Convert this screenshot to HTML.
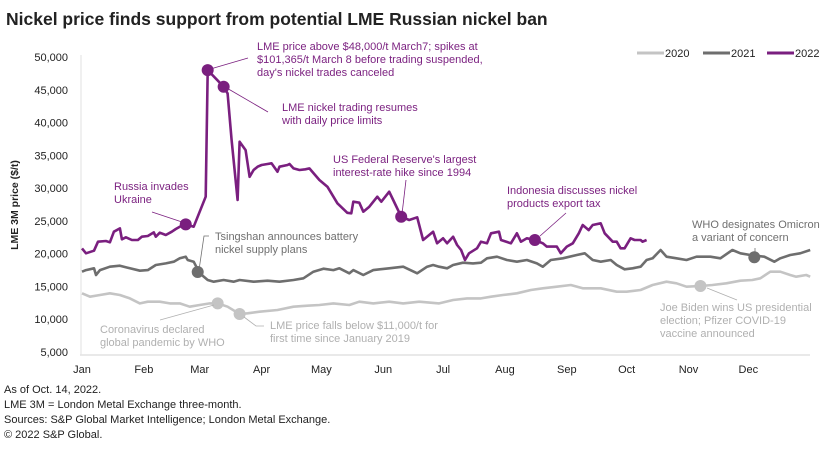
<!DOCTYPE html>
<html><head><meta charset="utf-8"><style>
body{margin:0;background:#fff;width:840px;height:448px;overflow:hidden;font-family:"Liberation Sans",sans-serif}
svg text{font-family:"Liberation Sans",sans-serif}
</style></head><body>
<svg id="chart" width="840" height="448" xmlns="http://www.w3.org/2000/svg">
<text x="6" y="25" font-size="17.5" font-weight="bold" fill="#222">Nickel price finds support from potential LME Russian nickel ban</text>
<g id="yaxis"></g>
<g id="xaxis"></g>
<text transform="translate(18,205) rotate(-90)" text-anchor="middle" font-size="10.5" font-weight="bold" fill="#222">LME 3M price ($/t)</text>
<g id="series"></g>
<g id="annotations" font-size="11">
<line x1="207" y1="70" x2="248" y2="58" stroke="#7a1f7f" stroke-width="0.8"/>
<text x="257" y="50" fill="#7a1f7f">LME price above $48,000/t March7; spikes at</text>
<text x="257" y="63" fill="#7a1f7f">$101,365/t March 8 before trading suspended,</text>
<text x="257" y="76" fill="#7a1f7f">day's nickel trades canceled</text>
<line x1="225" y1="87" x2="268" y2="112" stroke="#7a1f7f" stroke-width="0.8"/>
<text x="282" y="111" fill="#7a1f7f">LME nickel trading resumes</text>
<text x="282" y="124" fill="#7a1f7f">with daily price limits</text>
<text x="333" y="163" fill="#7a1f7f">US Federal Reserve's largest</text>
<text x="333" y="176" fill="#7a1f7f">interest-rate hike since 1994</text>
<line x1="406" y1="180" x2="402" y2="214" stroke="#7a1f7f" stroke-width="0.8"/>
<text x="114" y="190" fill="#7a1f7f">Russia invades</text>
<text x="114" y="203" fill="#7a1f7f">Ukraine</text>
<line x1="152" y1="212" x2="182" y2="222" stroke="#7a1f7f" stroke-width="0.8"/>
<text x="507" y="194" fill="#7a1f7f">Indonesia discusses nickel</text>
<text x="507" y="207" fill="#7a1f7f">products export tax</text>
<line x1="566" y1="213" x2="540" y2="236" stroke="#7a1f7f" stroke-width="0.8"/>
<text x="215" y="240" fill="#707070">Tsingshan announces battery</text>
<text x="215" y="253" fill="#707070">nickel supply plans</text>
<path d="M209 236 L204 236 L199 270" fill="none" stroke="#707070" stroke-width="0.8"/>
<text x="692" y="228" fill="#707070">WHO designates Omicron</text>
<text x="692" y="241" fill="#707070">a variant of concern</text>
<line x1="755" y1="248" x2="755" y2="254" stroke="#707070" stroke-width="0.8"/>
<text x="100" y="333" fill="#b0b0b0">Coronavirus declared</text>
<text x="100" y="346" fill="#b0b0b0">global pandemic by WHO</text>
<line x1="160" y1="320" x2="214" y2="305" stroke="#b0b0b0" stroke-width="0.8"/>
<text x="270" y="329" fill="#b0b0b0">LME price falls below $11,000/t for</text>
<text x="270" y="342" fill="#b0b0b0">first time since January 2019</text>
<path d="M244 317 L256 326 L264 326" fill="none" stroke="#b0b0b0" stroke-width="0.8"/>
<text x="660" y="311" fill="#b0b0b0">Joe Biden wins US presidential</text>
<text x="660" y="324" fill="#b0b0b0">election; Pfizer COVID-19</text>
<text x="660" y="337" fill="#b0b0b0">vaccine announced</text>
<line x1="707" y1="288" x2="737" y2="300" stroke="#b0b0b0" stroke-width="0.8"/>
</g>
<g font-size="11" fill="#222">
<g><line x1="637" y1="53" x2="664" y2="53" stroke="#c4c4c4" stroke-width="3"/><text x="665" y="57">2020</text></g>
<g><line x1="703" y1="53" x2="730" y2="53" stroke="#6e6e6e" stroke-width="3"/><text x="731" y="57">2021</text></g>
<g><line x1="767" y1="53" x2="794" y2="53" stroke="#7a1f7f" stroke-width="3"/><text x="795" y="57">2022</text></g>
</g>
<g font-size="11" fill="#222">
<text x="4" y="393">As of Oct. 14, 2022.</text>
<text x="4" y="408">LME 3M = London Metal Exchange three-month.</text>
<text x="4" y="423">Sources: S&amp;P Global Market Intelligence; London Metal Exchange.</text>
<text x="4" y="438">© 2022 S&amp;P Global.</text>
</g>
</svg>
<script>
const yTicks=[5000,10000,15000,20000,25000,30000,35000,40000,45000,50000];
const yTickLabels=["5,000","10,000","15,000","20,000","25,000","30,000","35,000","40,000","45,000","50,000"];
const months=["Jan","Feb","Mar","Apr","May","Jun","Jul","Aug","Sep","Oct","Nov","Dec"];
const monthStartDays=[0,31,59,90,120,151,181,212,243,273,304,334];
const days2022=[0,2,6,8,12,14,16,19,20,22,25,28,30,33,36,37,39,42,45,47,49,52,56,62,63,71,73,75,78,79,82,84,86,88,90,93,95,98,99,103,104,106,109,112,114,119,123,128,133,135,136,139,141,144,148,150,154,156,160,164,168,171,176,178,181,183,186,188,190,192,194,198,200,203,205,209,210,215,218,220,223,227,231,233,238,240,243,246,249,251,254,256,260,262,266,268,270,272,275,277,280,281,283];
const values2022=[20800,20050,20450,21820,21930,21730,23350,23860,22190,22490,22080,22080,22580,22690,23250,22580,23190,22840,23350,23760,24110,24470,24110,28690,48000,45460,44450,37330,28180,37070,35800,31730,32760,33260,33520,33670,33780,32500,33260,33520,33670,33010,32760,32860,33010,31230,30210,27680,26240,26150,27920,27770,26400,27160,28690,27920,29450,28180,25630,25130,25540,22080,23350,21580,22340,21580,22580,21320,20560,19030,20050,20810,21820,21580,23100,23350,22080,21580,23100,21820,22340,22080,21580,21070,21070,20050,21070,21580,23100,24370,23600,24370,24630,23100,21820,21820,20810,20810,22340,22080,22080,21820,22080];
const days2021=[0,2,6,7,9,14,19,24,29,33,37,42,46,49,52,53,56,59,63,66,71,76,79,86,93,99,106,111,116,121,126,129,134,136,141,146,154,161,168,173,176,179,183,186,191,196,200,203,208,213,218,223,228,231,235,241,248,252,256,260,265,268,272,276,280,283,286,290,293,298,303,308,315,320,326,330,335,342,347,350,355,360,365];
const values2021=[17250,17500,17760,16740,17500,18010,18160,17760,17400,17500,18270,18520,18770,19290,19530,19030,18770,17000,15980,15720,15980,15720,15980,15720,15870,15720,15980,16240,17250,17710,17500,17760,17000,17500,16740,17500,17760,18010,17000,18010,18270,18010,17760,18270,18620,18520,18620,19290,19530,19030,18770,19030,18520,18010,19030,19290,19790,20050,19030,18770,19030,18270,17610,17760,18010,19030,19290,20560,19530,19290,19030,19530,19530,19290,20560,20050,19790,19530,18770,19290,19790,20050,20560];
const days2020=[0,4,9,14,19,24,29,33,39,44,49,54,59,64,68,73,79,83,89,98,106,113,119,126,134,139,146,154,161,169,179,186,193,200,205,211,218,225,231,238,245,251,260,268,273,280,286,293,298,303,310,316,323,330,336,340,345,350,355,358,363,365];
const values2020=[13950,13440,13690,13950,13690,13180,12420,12670,12670,12420,12420,11910,12170,12420,12420,11910,10800,10900,11150,11410,11910,12060,12170,12420,12170,12670,12420,12670,12420,12670,12420,12930,13180,13180,13440,13690,13950,14460,14710,14960,15220,14710,14710,14200,14200,14460,15220,15720,15480,14960,15060,15220,15480,15870,15980,16240,17250,17250,16740,16480,16740,16480];
const markerDays2022=[52,63,71,160,227];
const markerValues2022=[24470,48000,45460,25630,22080];
const markerDays2021=[58,337];
const markerValues2021=[17200,19450];
const markerDays2020=[68,79,310];
const markerValues2020=[12420,10800,15060];

const NS="http://www.w3.org/2000/svg";
const xS=d=>82+d*1.995;
const yS=v=>352-(v-5000)/1000*6.556;
const mk=(t,a,p)=>{const e=document.createElementNS(NS,t);for(const k in a)e.setAttribute(k,a[k]);p.appendChild(e);return e;};
const ya=document.getElementById('yaxis'),xa=document.getElementById('xaxis'),sg=document.getElementById('series');
yTicks.forEach((v,i)=>{const t=mk('text',{x:68,y:yS(v)+4,'text-anchor':'end','font-size':11,fill:'#222'},ya);t.textContent=yTickLabels[i];

});
const ax=mk('line',{x1:80,x2:810,y1:355,y2:355,stroke:'#e2e2e2','stroke-width':1.5},xa);


const yl=mk('line',{x1:81,x2:81,y1:55,y2:355,stroke:'#e2e2e2','stroke-width':1},ya);


months.forEach((m,i)=>{const t=mk('text',{x:xS(monthStartDays[i]),y:373,'text-anchor':'middle','font-size':11,fill:'#222'},xa);t.textContent=m;

});
function line(days,vals,col,name){const p=mk('path',{d:days.map((d,i)=>(i?'L':'M')+xS(d).toFixed(1)+' '+yS(vals[i]).toFixed(1)).join(' '),fill:'none',stroke:col,'stroke-width':2.6,'stroke-linejoin':'round'},sg);

}
function dots(days,vals,col,name){days.forEach((d,i)=>{const c=mk('circle',{cx:xS(d),cy:yS(vals[i]),r:6,fill:col},sg);

});}
line(days2020,values2020,'#c4c4c4','line-2020');
line(days2021,values2021,'#6e6e6e','line-2021');
line(days2022,values2022,'#7a1f7f','line-2022');
dots(markerDays2020,markerValues2020,'#c4c4c4','event-marker-2020');
dots(markerDays2021,markerValues2021,'#6e6e6e','event-marker-2021');
dots(markerDays2022,markerValues2022,'#7a1f7f','event-marker-2022');
</script>
</body></html>
